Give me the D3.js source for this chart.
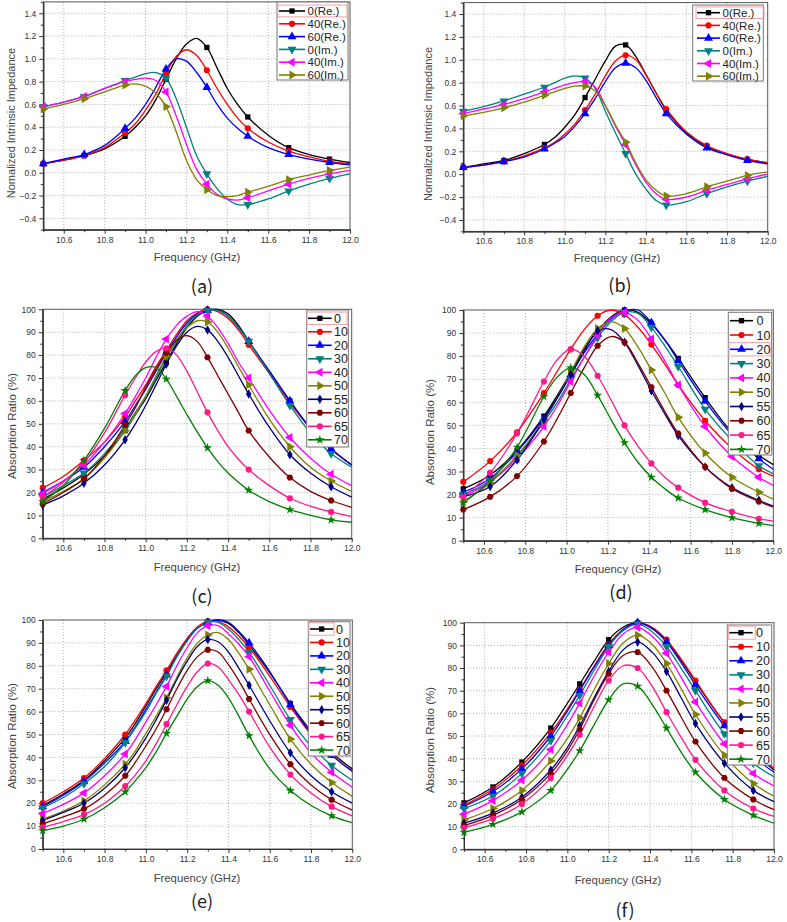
<!DOCTYPE html>
<html><head><meta charset="utf-8">
<script src="https://cdn.jsdelivr.net/npm/d3@7"></script>
<style>
body{margin:0;background:#fff}
svg{display:block}
text{font-family:"Liberation Sans",Arial,sans-serif}
</style>
</head><body>
<svg id="c" width="787" height="922"></svg>
<script>
// ---------- DATA ----------
const xTickLabels = [10.6,10.8,11.0,11.2,11.4,11.6,11.8,12.0];
const xMinorTicks = [10.5,10.7,10.9,11.1,11.3,11.5,11.7,11.9];
const yTicksImp = [-0.4,-0.2,0.0,0.2,0.4,0.6,0.8,1.0,1.2,1.4];
const yMinorImp = [-0.5,-0.3,-0.1,0.1,0.3,0.5,0.7,0.9,1.1,1.3,1.5];
const yTicksAbs = [0,10,20,30,40,50,60,70,80,90,100];
const yMinorAbs = [5,15,25,35,45,55,65,75,85,95];

const freqAB = [10.5,10.6,10.7,10.8,10.9,10.95,11.0,11.05,11.1,11.15,11.2,11.25,11.3,11.35,11.4,11.45,11.5,11.6,11.7,11.8,11.9,12.0];
const markAB = [10.5,10.7,10.9,11.1,11.3,11.5,11.7,11.9];
const freqD = [10.5,10.63,10.76,10.89,10.955,11.02,11.085,11.15,11.215,11.28,11.345,11.41,11.475,11.54,11.67,11.80,11.93,12.0];
const markD = [10.5,10.63,10.76,10.89,11.02,11.15,11.28,11.41,11.54,11.67,11.80,11.93];
const freqF = [10.5,10.64,10.78,10.92,10.99,11.06,11.13,11.20,11.27,11.34,11.41,11.48,11.55,11.62,11.76,11.90,12.0];
const markF = [10.5,10.64,10.78,10.92,11.06,11.20,11.34,11.48,11.62,11.76,11.90];

const namesImp = ["0(Re.)","40(Re.)","60(Re.)","0(Im.)","40(Im.)","60(Im.)"];
const colorsImp = ["#000000","#ff0000","#0000ff","#008080","#ff00ff","#808000"];
const symsImp = ["square","circle","up","down","left","right"];

const namesAbs = ["0","10","20","30","40","50","55","60","65","70"];
const colorsAbs = ["#000000","#ff0000","#0000ff","#008080","#ff00ff","#808000","#000080","#800000","#ff1a8c","#008000"];
const symsAbs = ["square","circle","up","down","left","right","diamond","hex","circle","star"];

// Panel (a)
const valuesA = [
 [0.08,0.11,0.15,0.21,0.32,0.40,0.50,0.64,0.82,1.00,1.13,1.18,1.10,0.92,0.74,0.60,0.49,0.33,0.22,0.16,0.12,0.09],
 [0.08,0.11,0.15,0.22,0.35,0.43,0.55,0.69,0.87,1.02,1.08,1.03,0.90,0.74,0.60,0.48,0.39,0.27,0.19,0.14,0.10,0.08],
 [0.08,0.12,0.16,0.24,0.39,0.48,0.60,0.75,0.91,1.00,0.98,0.88,0.75,0.60,0.48,0.39,0.32,0.22,0.16,0.12,0.09,0.07],
 [0.58,0.62,0.67,0.74,0.81,0.84,0.87,0.88,0.83,0.65,0.40,0.15,-0.01,-0.14,-0.23,-0.28,-0.28,-0.23,-0.16,-0.10,-0.05,-0.01],
 [0.58,0.62,0.67,0.74,0.80,0.82,0.83,0.81,0.71,0.50,0.25,0.03,-0.10,-0.19,-0.23,-0.24,-0.22,-0.16,-0.10,-0.05,-0.01,0.02],
 [0.56,0.60,0.65,0.71,0.77,0.78,0.76,0.70,0.58,0.36,0.11,-0.06,-0.15,-0.20,-0.21,-0.20,-0.17,-0.12,-0.06,-0.02,0.02,0.05]
];
// Panel (b)
const valuesB = [
 [0.06,0.09,0.12,0.18,0.26,0.32,0.41,0.52,0.67,0.83,0.99,1.12,1.13,1.03,0.87,0.71,0.56,0.36,0.24,0.17,0.13,0.10],
 [0.06,0.08,0.11,0.16,0.23,0.28,0.35,0.44,0.56,0.70,0.86,0.99,1.04,1.00,0.87,0.71,0.57,0.37,0.25,0.18,0.13,0.10],
 [0.06,0.08,0.11,0.15,0.22,0.27,0.33,0.42,0.53,0.66,0.81,0.93,0.97,0.93,0.82,0.67,0.53,0.35,0.23,0.17,0.12,0.09],
 [0.55,0.59,0.64,0.70,0.76,0.80,0.84,0.86,0.84,0.75,0.55,0.36,0.18,0.00,-0.13,-0.23,-0.27,-0.24,-0.17,-0.11,-0.06,-0.02],
 [0.53,0.57,0.61,0.66,0.72,0.75,0.78,0.80,0.81,0.76,0.60,0.42,0.26,0.08,-0.07,-0.17,-0.22,-0.20,-0.14,-0.09,-0.04,0.00],
 [0.51,0.54,0.58,0.63,0.69,0.72,0.75,0.77,0.77,0.73,0.60,0.43,0.28,0.10,-0.05,-0.14,-0.19,-0.17,-0.11,-0.06,-0.01,0.02]
];
// Panel (c)
const valuesC = [
 [17,22,28,36,47,54,61,69,77,85,92,97,99.5,100,98,93,86,73,60,48,39,32],
 [22,27,34,42,53,60,67,75,82,89,95,98.5,100,99,96,91,84.5,72,59,48,39,32],
 [20,25,31,40,51,58,65,73,81,88,94,98,99.5,99.5,97,92,86,73,60,48,39,32],
 [18,23,28.5,37,48,55,62,70,79,86,93,97.5,99.5,99.5,97,92,86,72,58,46,37,31],
 [19.5,25,32,42,54.5,62,70,79,87,93,97,99,97,92,85,77,70,56,44,35,28,23],
 [16,20.5,26,35,47,54,62,71,79.5,87,92,95,94.5,90,83,75,67,52,40,31,25,20.5],
 [14.5,18.5,24,32,43,50,58,67,76,84,90,92.5,91,86,79,71,63,48.5,36.5,28.5,22.5,18],
 [15,20,26,36,49.5,57,66,74,81,86.5,88.5,86,79,71,63,55,47,35.5,26.5,20.5,16.5,13.5],
 [18,24.5,33,46,62.5,70,77,81.5,83,80,73,64,55,47,40,34.5,30,23,17.5,14,11.5,9.5],
 [16,23,34,48,64.5,71,74.5,74.5,69.5,62,54,46.5,39.5,33.5,28.5,24.5,21,16,12.5,10,8,7]
];
// Panel (d)
const valuesD = [
 [22.5,28.5,39,54,63,73,83,91,97,100,99,94,87,79,62,47,37,33],
 [25.5,34.5,47,64,73.5,83,91.5,97.5,100,98,92.5,85,76.5,67.5,52,40,31,28],
 [21,27,38.5,53,62,72,81.5,89.5,96,99.5,100,94.5,87,78,60.5,46,35.5,31],
 [20,26,36.5,51.5,60,70,79.5,88,95,99,98.5,92.5,84.5,75.5,57,43.5,32.5,29],
 [19,25.5,35.5,49.5,58.5,69,79.5,89,96.5,99,95.5,87.5,78,67.5,49.5,36.5,27.5,24],
 [17,25,37,52,62,73,84,92,95,92,84,74,64,53.5,38,27.5,21,18],
 [19,23.5,35,52.5,62,72,82,91,91.5,86,76,65,55,45.5,32,23,17.5,15],
 [13.5,19,28,43,53,64,75,84.5,88.5,86,77,66.5,56,46.5,32,22.5,17,14.5],
 [19,29.5,46.5,69,78.5,83,80,71.5,61,50,41,33.5,27.5,23,16.5,12.5,9.5,8.5],
 [16.5,26,40.5,62.5,71,75,72,63,52.5,42.5,34,27.5,22.5,18.5,13.5,10,7.5,6.5]
];
// Panel (e)
const valuesE = [
 [19,24,30,38.5,48.5,55,62.5,70,77,84.5,91.5,96.5,99,100,98.5,94.5,89,77,63.5,51.5,42,35],
 [20,25,31,39.5,50,56.5,63.5,71,78,85.5,92,97,99.5,99.5,97,93,88,75.5,62,50,41,34],
 [18.5,23.5,29.5,37.5,47,53.5,61,68.5,76,84,91,96.5,99,100,99,95,90,77.5,63,50.5,41,34],
 [18,22.5,28.5,36,46.5,53,60,68,75.5,84,91,96.5,99,99,96,91.5,86,71.5,56.5,45,36.5,30],
 [15.5,19.5,24.5,32,41.5,48,55.5,63,71,80,88,94.5,97.5,97.5,94,89.5,84,69,54,42,33.5,27],
 [13,16.5,21,28,37,43,50.5,58,66,75,83.5,90,93.5,94.5,91.5,85.5,78.5,63,48,37,29,23],
 [12.5,16,20,26.5,35.5,41.5,48.5,56.5,65,74,82,88.5,91.5,90.5,86,79,71.5,56,42,32,25,20],
 [11,14,17.5,23.5,32,38,45,52.5,61,70,78,84,87,86,80.5,73.5,65.5,50,37,28,21.5,17],
 [9.5,12,15,20,27.5,32.5,38.5,46,54.5,63,71,77.5,81,79.5,74,67.5,60,44.5,32.5,24.5,18.5,14.5],
 [8,10,13,18,25,30,35.5,42.5,50.5,58,65.5,71,73.5,71.5,66,58,49.5,35,25.5,19,14.5,11.5]
];
// Panel (f)
const valuesF = [
 [20.5,27.5,38.5,53.5,63,73,83,92.5,98,100,97.5,92,83.5,74,56,43,35],
 [19.5,26.5,37,51.5,60.5,70.5,81,90.5,97,100,98,92.5,84,74.5,56,43,36],
 [19,25.5,35.5,50,59.5,70,80.5,90,97,100,97.5,91.5,82.5,72.5,54.5,41,34],
 [18,23.5,33.5,48,57.5,68,79,89.5,96.5,99.5,96,89.5,80,70,51,38,32],
 [15.5,21.5,30.5,44,53.5,64.5,76.5,87,95,98,94,86.5,76,65,46.5,33.5,28],
 [13,18,26,39,47.5,58,70.5,82,91,94.5,90.5,82,71,59.5,41.5,29,23.5],
 [11.5,16,23,35,43.5,54.5,67,78.5,88,91.5,87,78.5,67,55.5,38,26,21],
 [10.5,15,22,33.5,42,53,66,77.5,85.5,87,80.5,70,58.5,47.5,31.5,22,17.5],
 [9.5,13.5,20,31.5,40,50.5,63,74.5,81,80,72,60.5,49.5,39.5,26,18,14.5],
 [7.5,11,16.5,26,34,43.5,55,66,73,72,64,53.5,43,34,22,15,11.5]
];

// ---------- DRAWING ----------
const svg = d3.select("#c");

function symPath(kind){
  const sizes = {square:28,circle:30,up:34,down:34,left:34,right:34,diamond:26,hex:30,star:26};
  let type;
  switch(kind){
    case "square": type=d3.symbolSquare; break;
    case "circle": type=d3.symbolCircle; break;
    case "diamond": type=d3.symbolDiamond; break;
    case "star": type=d3.symbolStar; break;
    case "hex": type={draw(ctx,size){const r=Math.sqrt(size/2.598);for(let i=0;i<6;i++){const a=Math.PI/3*i;const px=r*Math.cos(a),py=r*Math.sin(a);if(i===0)ctx.moveTo(px,py);else ctx.lineTo(px,py);}ctx.closePath();}}; break;
    default: type=d3.symbolTriangle;
  }
  return d3.symbol().type(type).size(sizes[kind])();
}
const rot = {up:0,down:180,left:-90,right:90};

function drawPanel(p){
  const x = d3.scaleLinear().domain([10.5,12.0]).range([p.x0,p.x1]);
  const y = d3.scaleLinear().domain(p.yDom).range([p.y1,p.y0]);
  const g = svg.append("g");

  // grid
  g.append("g").selectAll("line").data(xTickLabels.filter(v=>v<12)).join("line")
    .attr("x1",d=>x(d)).attr("x2",d=>x(d)).attr("y1",p.y0).attr("y2",p.y1)
    .attr("stroke","#9a9a9a").attr("stroke-width",0.8).attr("stroke-dasharray","1,2");
  g.append("g").selectAll("line").data(p.yTicks.filter(v=>v>p.yDom[0]&&v<p.yDom[1])).join("line")
    .attr("x1",p.x0).attr("x2",p.x1).attr("y1",d=>y(d)).attr("y2",d=>y(d))
    .attr("stroke","#9a9a9a").attr("stroke-width",0.8).attr("stroke-dasharray","1,2");

  // frame
  g.append("rect").attr("x",p.x0).attr("y",p.y0).attr("width",p.x1-p.x0).attr("height",p.y1-p.y0)
    .attr("fill","none").attr("stroke","#555").attr("stroke-width",1);

  // axes
  const xa = g.append("g").attr("transform",`translate(0,${p.y1})`)
    .call(d3.axisBottom(x).tickValues(xTickLabels).tickSize(4).tickSizeOuter(0).tickPadding(3).tickFormat(d3.format(".1f")));
  const xm = g.append("g").attr("transform",`translate(0,${p.y1})`)
    .call(d3.axisBottom(x).tickValues(xMinorTicks).tickSize(2.5).tickSizeOuter(0).tickFormat(""));
  const ya = g.append("g").attr("transform",`translate(${p.x0},0)`)
    .call(d3.axisLeft(y).tickValues(p.yTicks).tickSize(4).tickSizeOuter(0).tickPadding(3).tickFormat(p.yFmt));
  const ym = g.append("g").attr("transform",`translate(${p.x0},0)`)
    .call(d3.axisLeft(y).tickValues(p.yMinor).tickSize(2.5).tickSizeOuter(0).tickFormat(""));
  [xa,xm,ya,ym].forEach(a=>{
    a.select(".domain").attr("stroke","#333");
    a.selectAll(".tick line").attr("stroke","#333");
    a.selectAll(".tick text").attr("fill","#333").style("font-size","8.5px").style("font-family",'"Liberation Sans",Arial,sans-serif');
  });

  // curves
  const line = d3.line().x(d=>x(d[0])).y(d=>y(d[1])).curve(d3.curveCatmullRom.alpha(0.5));
  p.values.forEach((vals,i)=>{
    const pts = p.freq.map((f,j)=>[f,vals[j]]);
    g.append("path").datum(pts).attr("d",line).attr("fill","none")
      .attr("stroke",p.colors[i]).attr("stroke-width",1.3);
  });
  p.values.forEach((vals,i)=>{
    const pts = p.freq.map((f,j)=>[f,vals[j]]).filter(d=>p.marks.some(m=>Math.abs(m-d[0])<1e-6));
    const sp = symPath(p.syms[i]);
    g.append("g").selectAll("path").data(pts).join("path")
      .attr("d",sp).attr("fill",p.colors[i])
      .attr("transform",d=>`translate(${x(d[0])},${y(d[1])}) rotate(${rot[p.syms[i]]||0})`);
  });

  // legend
  const L = p.legend;
  const lg = g.append("g");
  lg.append("rect").attr("x",L.x).attr("y",L.y).attr("width",L.w).attr("height",L.h)
    .attr("fill","#fff").attr("stroke","#777").attr("stroke-width",1);
  p.names.forEach((nm,i)=>{
    const yy = L.row0 + i*L.dy;
    if(i===L.hi){
      lg.append("rect").attr("x",L.lx0-1).attr("y",yy-L.dy/2+0.5).attr("width",L.hiW).attr("height",L.dy-1)
        .attr("fill","none").attr("stroke","#f2a0a8").attr("stroke-width",1);
    }
    lg.append("line").attr("x1",L.lx0).attr("x2",L.lx1).attr("y1",yy).attr("y2",yy)
      .attr("stroke",p.colors[i]).attr("stroke-width",1.6);
    lg.append("path").attr("d",symPath(p.syms[i])).attr("fill",p.colors[i])
      .attr("transform",`translate(${(L.lx0+L.lx1)/2},${yy}) rotate(${rot[p.syms[i]]||0})`);
    lg.append("text").attr("x",L.tx).attr("y",yy).attr("dy","0.36em")
      .style("font-size",L.fs+"px").attr("fill","#222").text(nm);
  });

  // titles
  g.append("text").attr("x",p.xtX).attr("y",p.xtY).attr("dy","0.35em").attr("text-anchor","middle")
    .style("font-size","11.3px").attr("fill","#444").text("Frequency (GHz)");
  g.append("text").attr("transform",`translate(${p.ytX},${p.ytY}) rotate(-90)`).attr("dy","0.35em")
    .attr("text-anchor","middle").style("font-size",p.ytFs+"px").attr("fill","#444").text(p.yTitle);
  g.append("text").attr("x",p.tagX).attr("y",p.tagY).attr("dy","0.35em").attr("text-anchor","middle")
    .style("font-size","18px").style("font-family",'"Noto Sans CJK KR","Noto Sans",sans-serif')
    .attr("fill","#222").text(p.tag);
}

const fmtImp = d3.format(".1f");
const fmtAbs = d3.format("d");

const panels = [
 {tag:"(a)",freq:freqAB,marks:markAB,values:valuesA,names:namesImp,colors:colorsImp,syms:symsImp,
  x0:43.3,x1:350,y0:1.9,y1:229.7,yDom:[-0.5,1.5],yTicks:yTicksImp,yMinor:yMinorImp,yFmt:fmtImp,
  yTitle:"Nomalized Intrinsic Impedance",ytFs:11,ytX:11,ytY:123,xtX:197,xtY:257,tagX:202,tagY:287,
  legend:{x:277,y:2,w:71,h:78,row0:11,dy:12.8,lx0:279,lx1:305,tx:307.5,fs:11.5,hi:0,hiW:69}},
 {tag:"(b)",freq:freqAB,marks:markAB,values:valuesB,names:namesImp,colors:colorsImp,syms:symsImp,
  x0:463.3,x1:767.7,y0:2.6,y1:231.4,yDom:[-0.5,1.5],yTicks:yTicksImp,yMinor:yMinorImp,yFmt:fmtImp,
  yTitle:"Normalized Intrinsic Impedance",ytFs:11,ytX:428,ytY:124,xtX:617,xtY:258,tagX:620,tagY:286,
  legend:{x:692.7,y:5,w:70.6,h:76,row0:12.7,dy:12.7,lx0:697,lx1:720,tx:722.5,fs:11.5,hi:0,hiW:68}},
 {tag:"(c)",freq:freqAB,marks:markAB,values:valuesC,names:namesAbs,colors:colorsAbs,syms:symsAbs,
  x0:42.7,x1:351.7,y0:309.3,y1:538.3,yDom:[0,100],yTicks:yTicksAbs,yMinor:yMinorAbs,yFmt:fmtAbs,
  yTitle:"Absorption Ratio (%)",ytFs:11.5,ytX:12,ytY:426,xtX:197,xtY:567,tagX:202,tagY:597,
  legend:{x:306.7,y:310,w:41.6,h:137,row0:318.3,dy:13.5,lx0:308,lx1:331.7,tx:334,fs:12.5,hi:0,hiW:40}},
 {tag:"(d)",freq:freqD,marks:markD,values:valuesD,names:namesAbs,colors:colorsAbs,syms:symsAbs,
  x0:463.3,x1:773.3,y0:310,y1:540.7,yDom:[0,100],yTicks:yTicksAbs,yMinor:yMinorAbs,yFmt:fmtAbs,
  yTitle:"Absorption Ratio (%)",ytFs:11.5,ytX:430,ytY:432,xtX:618,xtY:569,tagX:621,tagY:593,
  legend:{x:728.3,y:312.3,w:43.4,h:142.7,row0:320.7,dy:14.3,lx0:730,lx1:753,tx:756.5,fs:12.5,hi:2,hiW:41}},
 {tag:"(e)",freq:freqAB,marks:markAB,values:valuesE,names:namesAbs,colors:colorsAbs,syms:symsAbs,
  x0:42.7,x1:352.3,y0:620,y1:849,yDom:[0,100],yTicks:yTicksAbs,yMinor:yMinorAbs,yFmt:fmtAbs,
  yTitle:"Absorption Ratio (%)",ytFs:11.5,ytX:12,ytY:736,xtX:197,xtY:878,tagX:202,tagY:902,
  legend:{x:308.3,y:621.7,w:41.7,h:134.3,row0:629,dy:13.45,lx0:310,lx1:333.3,tx:336,fs:12.5,hi:0,hiW:25}},
 {tag:"(f)",freq:freqF,marks:markF,values:valuesF,names:namesAbs,colors:colorsAbs,syms:symsAbs,
  x0:464,x1:774,y0:622.7,y1:849.3,yDom:[0,100],yTicks:yTicksAbs,yMinor:yMinorAbs,yFmt:fmtAbs,
  yTitle:"Absorption Ratio (%)",ytFs:11.5,ytX:430,ytY:740,xtX:618,xtY:880,tagX:625,tagY:911,
  legend:{x:727.3,y:625,w:44.4,h:140,row0:632.7,dy:14.05,lx0:729.3,lx1:752.7,tx:756,fs:12.5,hi:0,hiW:27}}
];
panels.forEach(drawPanel);
</script>
</body></html>
